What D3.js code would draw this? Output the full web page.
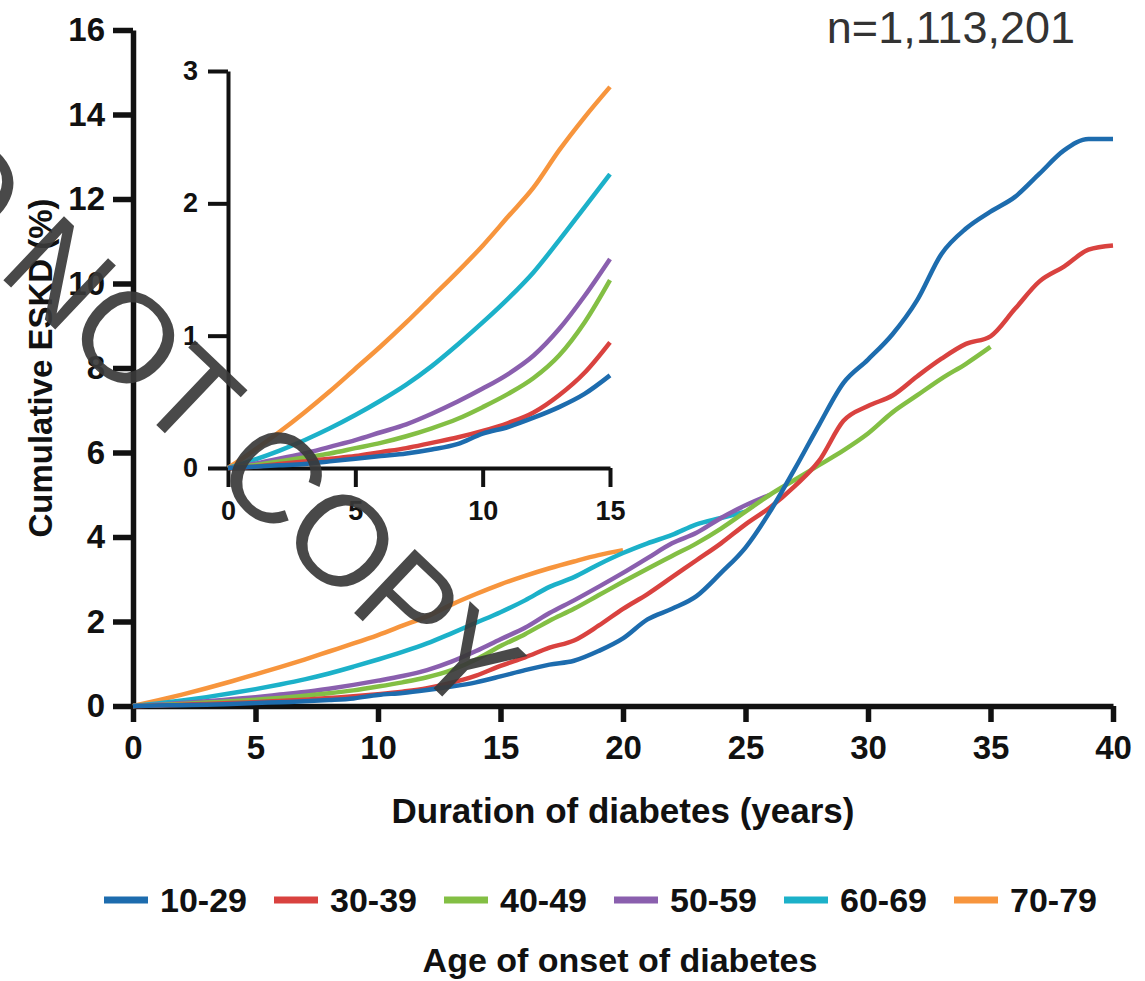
<!DOCTYPE html>
<html>
<head>
<meta charset="utf-8">
<script src="https://cdn.jsdelivr.net/npm/d3@7"></script>
<style>
    html, body { margin: 0; padding: 0; background: #fff; }
    svg { display: block; }
    text { font-family: "Liberation Sans", Arial, Helvetica, sans-serif; }
</style>
</head>
<body>
<svg id="chart" width="1145" height="981"></svg>
<script>
// Data
const years = [0, 1, 2, 3, 4, 5, 6, 7, 8, 9, 10, 11, 12, 13, 14, 15, 16, 17, 18, 19, 20,
    21, 22, 23, 24, 25, 26, 27, 28, 29, 30, 31, 32, 33, 34, 35, 36, 37, 38, 39, 40];

const groups = ["10-29", "30-39", "40-49", "50-59", "60-69", "70-79"];
const groupColors = ["#1d6cae", "#d9423f", "#83bf44", "#8a5fae", "#1cb1c9", "#f7953d"];

const onset10to29 = [0, 0.01, 0.02, 0.03, 0.05, 0.07, 0.09, 0.11, 0.14, 0.18, 0.26, 0.31, 0.38, 0.46, 0.56,
    0.70, 0.85, 0.98, 1.07, 1.30, 1.60, 2.05, 2.30, 2.60, 3.15, 3.75, 4.60, 5.60, 6.65, 7.65, 8.20,
    8.80, 9.60, 10.70, 11.30, 11.70, 12.05, 12.60, 13.15, 13.42, 13.42];
const onset30to39 = [0, 0.01, 0.03, 0.05, 0.07, 0.09, 0.12, 0.15, 0.19, 0.23, 0.28, 0.34, 0.42, 0.55, 0.72,
    0.95, 1.15, 1.38, 1.55, 1.90, 2.30, 2.65, 3.05, 3.45, 3.85, 4.30, 4.70, 5.20, 5.80, 6.75, 7.10,
    7.35, 7.80, 8.22, 8.57, 8.75, 9.40, 10.05, 10.40, 10.80, 10.90];
const onset40to49 = [0, 0.02, 0.05, 0.08, 0.11, 0.15, 0.19, 0.24, 0.30, 0.37, 0.46, 0.56, 0.68, 0.85, 1.10,
    1.42, 1.70, 2.02, 2.30, 2.62, 2.94, 3.25, 3.55, 3.85, 4.20, 4.60, 5.00, 5.35, 5.70, 6.05, 6.45,
    6.95, 7.35, 7.75, 8.10, 8.50];
const onset50to59 = [0, 0.03, 0.07, 0.11, 0.16, 0.21, 0.27, 0.33, 0.41, 0.50, 0.60, 0.71, 0.85, 1.05, 1.30,
    1.58, 1.85, 2.20, 2.50, 2.82, 3.15, 3.50, 3.85, 4.10, 4.45, 4.75, 5.00];
const onset60to69 = [0, 0.06, 0.13, 0.21, 0.30, 0.40, 0.51, 0.63, 0.77, 0.93, 1.10, 1.28, 1.48, 1.72, 1.97,
    2.22, 2.50, 2.82, 3.05, 3.35, 3.62, 3.85, 4.05, 4.30, 4.45, 4.60];
const onset70to79 = [0, 0.13, 0.27, 0.42, 0.58, 0.75, 0.92, 1.10, 1.29, 1.48, 1.68, 1.90, 2.12, 2.40, 2.65,
    2.88, 3.08, 3.26, 3.42, 3.57, 3.69];

const groupValues = [onset10to29, onset30to39, onset40to49, onset50to59, onset60to69, onset70to79];

const xTicks = [0, 5, 10, 15, 20, 25, 30, 35, 40];
const yTicks = [0, 2, 4, 6, 8, 10, 12, 14, 16];
const insetXTicks = [0, 5, 10, 15];
const insetYTicks = [0, 1, 2, 3];

const xTitle = "Duration of diabetes (years)";
const yTitle = "Cumulative ESKD (%)";
const legendTitle = "Age of onset of diabetes";
const sampleLabel = "n=1,113,201";
const watermark = "DO NOT COPY";

//
const svg = d3.select("#chart");
const font = "'Liberation Sans', Arial, Helvetica, sans-serif";

const series = groups.map((name, i) => ({
    name: name,
    color: groupColors[i],
    points: groupValues[i].map((v, j) => ({ year: years[j], value: v }))
}));

// Main scales
const x = d3.scaleLinear().domain([0, 40]).range([133, 1113]);
const y = d3.scaleLinear().domain([0, 16]).range([706, 30]);

// Inset scales
const xi = d3.scaleLinear().domain([0, 15]).range([228, 610]);
const yi = d3.scaleLinear().domain([0, 3]).range([468, 71]);

function styleAxis(g, width, fontSize) {
    g.select(".domain").attr("stroke", "#111").attr("stroke-width", width);
    g.selectAll(".tick line").attr("stroke", "#111").attr("stroke-width", width);
    g.selectAll(".tick text")
        .attr("fill", "#111")
        .style("font-family", font)
        .style("font-weight", "bold")
        .style("font-size", fontSize + "px");
}

// Main axes
svg.append("g")
    .attr("transform", `translate(0,${y(0)})`)
    .call(d3.axisBottom(x).tickValues(xTicks).tickSize(16).tickSizeOuter(0).tickPadding(14))
    .call(g => styleAxis(g, 5.5, 33));

svg.append("g")
    .attr("transform", `translate(${x(0)},0)`)
    .call(d3.axisLeft(y).tickValues(yTicks).tickSize(20).tickSizeOuter(0).tickPadding(8))
    .call(g => styleAxis(g, 5.5, 33));

// Main lines (oldest onset drawn first, youngest on top)
const line = d3.line()
    .x(d => x(d.year))
    .y(d => y(d.value))
    .curve(d3.curveMonotoneX);

svg.append("g")
    .selectAll("path")
    .data(series.slice().reverse())
    .join("path")
    .attr("d", d => line(d.points))
    .attr("fill", "none")
    .attr("stroke", d => d.color)
    .attr("stroke-width", 4.5)
    .attr("stroke-linejoin", "round");

// Inset
svg.append("g")
    .attr("transform", `translate(0,${yi(0)})`)
    .call(d3.axisBottom(xi).tickValues(insetXTicks).tickSize(19).tickSizeOuter(0).tickPadding(14))
    .call(g => styleAxis(g, 4, 27));

svg.append("g")
    .attr("transform", `translate(${xi(0)},0)`)
    .call(d3.axisLeft(yi).tickValues(insetYTicks).tickFormat(d3.format("d"))
        .tickSize(20).tickSizeOuter(0).tickPadding(10))
    .call(g => styleAxis(g, 4, 27));

const insetLine = d3.line()
    .x(d => xi(d.year))
    .y(d => yi(d.value))
    .curve(d3.curveMonotoneX);

svg.append("g")
    .selectAll("path")
    .data(series.slice().reverse())
    .join("path")
    .attr("d", d => insetLine(d.points.filter(p => p.year <= 15)))
    .attr("fill", "none")
    .attr("stroke", d => d.color)
    .attr("stroke-width", 4.5)
    .attr("stroke-linejoin", "round");

// Titles
svg.append("text")
    .attr("x", 623)
    .attr("y", 823)
    .attr("text-anchor", "middle")
    .style("font-weight", "bold")
    .style("font-size", "35px")
    .attr("fill", "#111")
    .text(xTitle);

svg.append("text")
    .attr("transform", `translate(52,368) rotate(-90)`)
    .attr("text-anchor", "middle")
    .style("font-weight", "bold")
    .style("font-size", "33px")
    .attr("fill", "#111")
    .text(yTitle);

svg.append("text")
    .attr("x", 1075)
    .attr("y", 43)
    .attr("text-anchor", "end")
    .style("font-size", "45px")
    .attr("fill", "#333")
    .text(sampleLabel);

// Legend
const legend = svg.append("g").attr("transform", "translate(104,900)");
const legendItems = legend.selectAll("g")
    .data(series)
    .join("g")
    .attr("transform", (d, i) => `translate(${i * 170},0)`);

legendItems.append("line")
    .attr("x1", 0)
    .attr("x2", 44)
    .attr("stroke", d => d.color)
    .attr("stroke-width", 7);

legendItems.append("text")
    .attr("x", 56)
    .attr("dy", "0.36em")
    .style("font-weight", "bold")
    .style("font-size", "34px")
    .attr("fill", "#111")
    .text(d => d.name);

svg.append("text")
    .attr("x", 620)
    .attr("y", 972)
    .attr("text-anchor", "middle")
    .style("font-weight", "bold")
    .style("font-size", "34px")
    .attr("fill", "#111")
    .text(legendTitle);

// Watermark
svg.append("text")
    .attr("transform", "translate(183,387) rotate(43.5)")
    .attr("text-anchor", "middle")
    .attr("dy", "0.36em")
    .style("font-size", "128px")
    .style("letter-spacing", "-2px")
    .attr("fill", "#3a3a3a")
    .attr("fill-opacity", 0.92)
    .text(watermark);
</script>
</body>
</html>
